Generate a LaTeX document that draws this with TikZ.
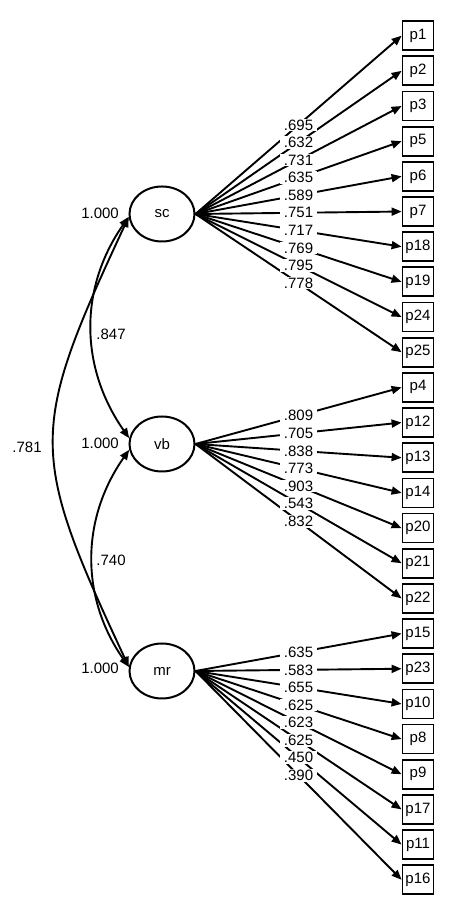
\documentclass[tikz,border=0pt]{standalone}
\usepackage{fontspec}
\setmainfont{Liberation Sans}
\usetikzlibrary{arrows.meta,shapes.geometric}
\begin{document}
\begin{tikzpicture}[x=1pt,y=1pt,
  every node/.style={font=\fontsize{15}{17}\selectfont},
  latent/.style={draw, ellipse, line width=2pt, minimum width=65pt, minimum height=55pt, inner sep=0pt},
  obs/.style={draw, rectangle, line width=1.8pt, minimum width=31pt, minimum height=29pt, inner sep=0pt},
  load/.style={line width=1.9pt, -{Triangle[length=10pt,width=8pt]}},
  cov/.style={line width=1.9pt, {Triangle[length=10pt,width=8pt]}-{Triangle[length=10pt,width=8pt]}},
  lbl/.style={fill=white, inner xsep=3.5pt, inner ysep=1pt},
  txt/.style={inner sep=0pt}
]
\useasboundingbox (0,0) rectangle (450,901);
\node[latent] (sc) at (162,687) {sc};
\node[latent] (vb) at (162,457) {vb};
\node[latent] (mr) at (162,230) {mr};
\foreach \n [count=\i from 0] in {p1,p2,p3,p5,p6,p7,p18,p19,p24,p25,p4,p12,p13,p14,p20,p21,p22,p15,p23,p10,p8,p9,p17,p11,p16}
  \node[obs] (\n) at (418,865.3-35.17*\i) {\n};
% loadings
\foreach \f/\n/\v in {sc/p1/.695,sc/p2/.632,sc/p3/.731,sc/p5/.635,sc/p6/.589,sc/p7/.751,sc/p18/.717,sc/p19/.769,sc/p24/.795,sc/p25/.778,
  vb/p4/.809,vb/p12/.705,vb/p13/.838,vb/p14/.773,vb/p20/.903,vb/p21/.543,vb/p22/.832,
  mr/p15/.635,mr/p23/.583,mr/p10/.655,mr/p8/.625,mr/p9/.623,mr/p17/.625,mr/p11/.450,mr/p16/.390}
  \draw[load] (\f.east) -- (\n.west);
\foreach \f/\n/\v in {sc/p1/.695,sc/p2/.632,sc/p3/.731,sc/p5/.635,sc/p6/.589,sc/p7/.751,sc/p18/.717,sc/p19/.769,sc/p24/.795,sc/p25/.778,
  vb/p4/.809,vb/p12/.705,vb/p13/.838,vb/p14/.773,vb/p20/.903,vb/p21/.543,vb/p22/.832,
  mr/p15/.635,mr/p23/.583,mr/p10/.655,mr/p8/.625,mr/p9/.623,mr/p17/.625,mr/p11/.450,mr/p16/.390}
  \path (\f.east) -- (\n.west) node[lbl,pos=0.5] {\v};
% covariances
\draw[cov] (sc.185) to[out=235,in=125,looseness=1.0] (vb.170);
\draw[cov] (vb.190) to[out=235,in=125,looseness=1.0] (mr.173);
\draw[cov] (sc.185) to[out=245,in=115,looseness=1.35] (mr.173);
\node[txt,anchor=east] (vsc) at (119,688) {1.000};
\node[txt,anchor=east] (vvb) at (119,458) {1.000};
\node[txt,anchor=east] (vmr) at (119,233) {1.000};
\node[txt] (c1) at (111,567) {.847};
\node[txt] (c2) at (111,341) {.740};
\node[txt] (c3) at (27,454) {.781};
\end{tikzpicture}
\end{document}
